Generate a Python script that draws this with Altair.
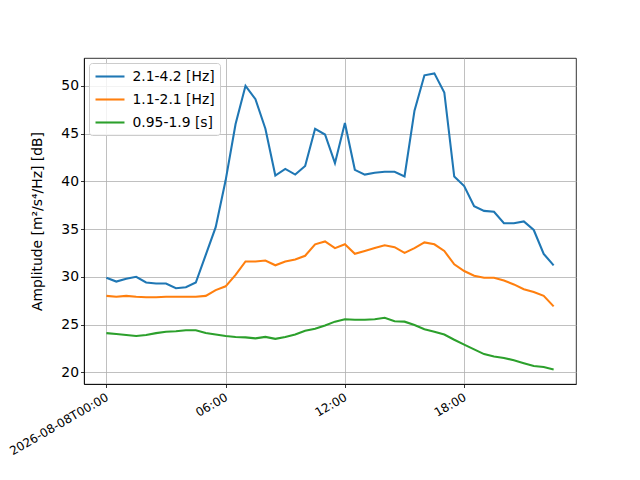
import altair as alt
import pandas as pd

series_names = ["2.1-4.2 [Hz]", "1.1-2.1 [Hz]", "0.95-1.9 [s]"]
colors = ["#1f77b4", "#ff7f0e", "#2ca02c"]

blue = [29.9, 29.5, 29.8, 30.0, 29.4, 29.3, 29.3, 28.8, 28.9, 29.4,
        32.3, 35.2, 40.1, 46.0, 50.0, 48.6, 45.5, 40.6, 41.3, 40.7,
        41.6, 45.5, 44.9, 41.9, 46.1, 41.2, 40.7, 40.9, 41.0, 41.0,
        40.5, 47.4, 51.1, 51.3, 49.3, 40.5, 39.5, 37.4, 36.9, 36.8,
        35.6, 35.6, 35.8, 34.9, 32.4, 31.2]
orange = [28.0, 27.9, 28.0, 27.9, 27.85, 27.85, 27.9, 27.9, 27.9, 27.9,
          28.0, 28.6, 29.0, 30.2, 31.6, 31.6, 31.7, 31.2, 31.6, 31.8,
          32.2, 33.4, 33.7, 33.0, 33.4, 32.4, 32.7, 33.0, 33.3, 33.1,
          32.5, 33.0, 33.6, 33.4, 32.7, 31.3, 30.6, 30.1, 29.9, 29.9,
          29.6, 29.2, 28.7, 28.4, 28.0, 26.9]
green = [24.1, 24.0, 23.9, 23.8, 23.9, 24.1, 24.25, 24.3, 24.4, 24.4,
         24.1, 23.95, 23.8, 23.7, 23.65, 23.55, 23.7, 23.5, 23.7, 23.95,
         24.35, 24.55, 24.9, 25.3, 25.55, 25.5, 25.5, 25.55, 25.7, 25.35,
         25.3, 24.95, 24.5, 24.25, 23.95, 23.4, 22.9, 22.4, 21.9, 21.65,
         21.5, 21.25, 20.95, 20.65, 20.55, 20.3]

times = pd.date_range("2026-08-08T00:00:00", periods=len(blue), freq="30min")

rows = []
for name, vals in zip(series_names, [blue, orange, green]):
    for t, v in zip(times, vals):
        rows.append({"time": t.strftime("%Y-%m-%dT%H:%M:%S"), "value": v, "series": name})
df = pd.DataFrame(rows)

tick_values = [alt.DateTime(year=2026, month=8, date=8, hours=h) for h in [0, 6, 12, 18]]
x_domain = [alt.DateTime(year=2026, month=8, date=7, hours=22, minutes=52, seconds=30),
            alt.DateTime(year=2026, month=8, date=8, hours=23, minutes=37, seconds=30)]

label_expr = ("timeFormat(datum.value, '%H:%M') == '00:00' ? "
              "timeFormat(datum.value, '%Y-%m-%dT%H:%M') : timeFormat(datum.value, '%H:%M')")

chart = alt.Chart(df).mark_line(strokeWidth=2.08, clip=True).encode(
    x=alt.X("time:T",
            scale=alt.Scale(domain=x_domain),
            axis=alt.Axis(values=tick_values, labelExpr=label_expr, title=None,
                          labelAngle=-30, labelAlign="right", labelBaseline="top",
                          labelFontSize=12, labelPadding=4, labelOffset=-2,
                          labelFlush=False, labelOverlap=False)),
    y=alt.Y("value:Q",
            scale=alt.Scale(domain=[18.77, 52.91], nice=False, zero=False),
            axis=alt.Axis(values=[20, 25, 30, 35, 40, 45, 50],
                          title="Amplitude [m²/s⁴/Hz] [dB]",
                          titlePadding=16, labelFontSize=13.9, titleFontSize=13.9)),
    color=alt.Color("series:N",
                    scale=alt.Scale(domain=series_names, range=colors),
                    sort=series_names,
                    legend=alt.Legend(title=None, orient="top-left", offset=5,
                                      symbolType="M-2.07,0H2.07", symbolSize=196,
                                      symbolStrokeWidth=2.08, symbolOffset=7.5,
                                      labelFontSize=13.9, labelOffset=14,
                                      rowPadding=7, padding=5,
                                      fillColor="rgba(255,255,255,0.8)",
                                      strokeColor="#cccccc", cornerRadius=3)),
).properties(
    width=492, height=326,
    autosize=alt.AutoSizeParams(type="none"),
    padding={"left": 76, "top": 50, "right": 40, "bottom": 90},
).configure(
    font="DejaVu Sans",
).configure_view(
    stroke="black", strokeWidth=0.8,
).configure_axis(
    grid=True, gridColor="#b0b0b0", gridWidth=0.8,
    domainColor="black", domainWidth=0.8,
    tickColor="black", tickSize=3.5, tickWidth=0.8,
    labelColor="black", titleColor="black", titleFontWeight="normal",
    labelFont="DejaVu Sans", titleFont="DejaVu Sans",
).configure_legend(
    labelFont="DejaVu Sans", labelColor="black",
)

chart.save("out.html", embed_options={"renderer": "svg", "actions": False})
